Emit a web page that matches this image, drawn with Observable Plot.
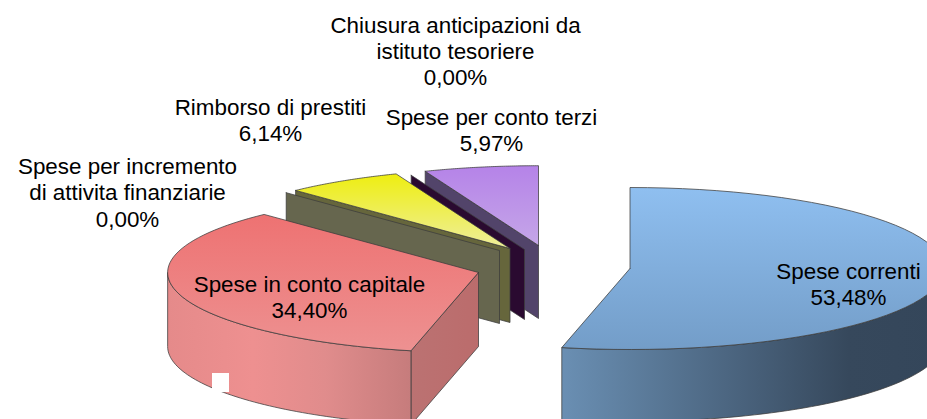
<!DOCTYPE html>
<html><head><meta charset="utf-8">
<style>html,body{margin:0;padding:0;background:#fff}svg{display:block}</style>
<script src="https://cdn.jsdelivr.net/npm/d3@7"></script>
<script src="https://cdn.jsdelivr.net/npm/@observablehq/plot@0.6"></script>
</head><body><div id="chart"></div>
<script>
const categories = ["Spese correnti","Spese in conto capitale","Spese per incremento\ndi attivita finanziarie","Rimborso di prestiti","Chiusura anticipazioni da\nistituto tesoriere","Spese per conto terzi"];
const shares = [53.48,34.40,0,6.14,0,5.97];

// Layout of the exploded 3D pie (pixel space of the picture)
const W=927,H=419,RX=314,RY=81;
const layout=[
 {cx:629.5,cy:268,k:1,d:72,top:"url(#gBlueTop)",rim:"url(#gBlueRim)"},
 {cx:478,cy:272,k:.99,d:74,top:"url(#gRedTop)",rim:"url(#gRedRim)",cut:"url(#gRedCut)"},
 {cx:499,cy:250,k:.985,d:73,face:"#66664e"},
 {cx:509.5,cy:248,k:.99,d:74,top:"url(#gYellowTop)",face:"#66663c"},
 {cx:524,cy:249,k:.985,d:70,face:"#2a0a30"},
 {cx:538,cy:245,k:.985,d:73,top:"url(#gPurpleTop)",face:"#52446a"}
];
const labelAt=[[848,283.5],[309,296.5],[127,191.5],[270,119.5],[455,50],[491,129.5]];
const fmt=v=>v.toFixed(2).replace(".",",")+"%";

const total=d3.sum(shares);
let acc=0;
const slices=shares.map((v,i)=>{const a0=acc/total*2*Math.PI;acc+=v;return {...layout[i],a0,a1:acc/total*2*Math.PI};});
const pt=(s,a,dy=0)=>({x:s.cx+Math.sin(a)*RX*s.k,y:s.cy-Math.cos(a)*RY*s.k+dy});
const arc=(s,a0,a1,dy=0)=>d3.range(61).map(i=>pt(s,a0+(a1-a0)*i/60,dy));
const apex=(s,dy=0)=>({x:s.cx,y:s.cy+dy});
const close=p=>[...p,p[0]];
const poly=(p,fill)=>Plot.line(close(p),{x:"x",y:"y",fill,stroke:"#3c3c3c",strokeWidth:0.9,strokeOpacity:0.85,curve:"linear"});

const marks=[];
// back to front
for(const i of [5,4,3,2]){
  const s=slices[i];
  marks.push(poly([pt(s,s.a0),apex(s),apex(s,s.d),pt(s,s.a0,s.d)],s.face));
  if(s.top) marks.push(poly([apex(s),...arc(s,s.a0,s.a1)],s.top));
}
{ const s=slices[1];
  marks.push(poly([pt(s,s.a0),apex(s),apex(s,s.d),pt(s,s.a0,s.d)],s.cut));
  const aEnd=1.5*Math.PI;
  marks.push(poly([...arc(s,s.a0,aEnd),...arc(s,s.a0,aEnd,s.d).reverse()],s.rim));
  marks.push(poly([apex(s),...arc(s,s.a0,s.a1)],s.top));
}
{ const s=slices[0];
  const aStart=.5*Math.PI;
  marks.push(poly([...arc(s,aStart,s.a1),...arc(s,aStart,s.a1,s.d).reverse()],s.rim));
  marks.push(poly([apex(s),...arc(s,s.a0,s.a1)],s.top));
}
// small white patch on the red rim
marks.push(Plot.rect([{x1:212,x2:229,y1:373,y2:392}],{x1:"x1",x2:"x2",y1:"y1",y2:"y2",fill:"#fff"}));
// labels
const labels=categories.map((c,i)=>({text:c+"\n"+fmt(shares[i]),x:labelAt[i][0],y:labelAt[i][1]}));
marks.push(Plot.text(labels,{x:"x",y:"y",text:"text",fontSize:22.4,fontFamily:"Liberation Sans",fill:"#000",lineHeight:1.17,textAnchor:"middle",lineAnchor:"middle",frameAnchor:null}));

const plot=Plot.plot({width:W,height:H,margin:0,
  x:{domain:[0,W],range:[0,W],axis:null},y:{domain:[0,H],range:[0,H],axis:null},
  style:{background:"#fff"},marks});
const grads={
 gBlueTop:{y2:1,s:[[0,"#8fbff0"],[1,"#739dc8"]]},
 gBlueRim:{x2:1,s:[[0,"#6a8fb3"],[.75,"#36485c"],[1,"#34465a"]]},
 gRedTop:{y2:1,s:[[0,"#ee7272"],[1,"#ed9191"]]},
 gRedRim:{x2:1,s:[[0,"#e58a8a"],[.35,"#ee9090"],[.65,"#e08c8c"],[1,"#c67c7c"]]},
 gRedCut:{x2:1,s:[[0,"#bb7272"],[1,"#bb6c6c"]]},
 gYellowTop:{y2:1,s:[[0,"#eeee10"],[1,"#eeee9c"]]},
 gPurpleTop:{y2:1,s:[[0,"#b583e8"],[1,"#c5a6e8"]]}
};
const defs=d3.select(plot).insert("defs",":first-child");
for(const [id,g] of Object.entries(grads)){
  const lg=defs.append("linearGradient").attr("id",id).attr("x1",0).attr("y1",0).attr("x2",g.x2||0).attr("y2",g.y2||0);
  g.s.forEach(([o,c])=>lg.append("stop").attr("offset",o).attr("stop-color",c));
}
document.getElementById("chart").append(plot);
</script></body></html>
